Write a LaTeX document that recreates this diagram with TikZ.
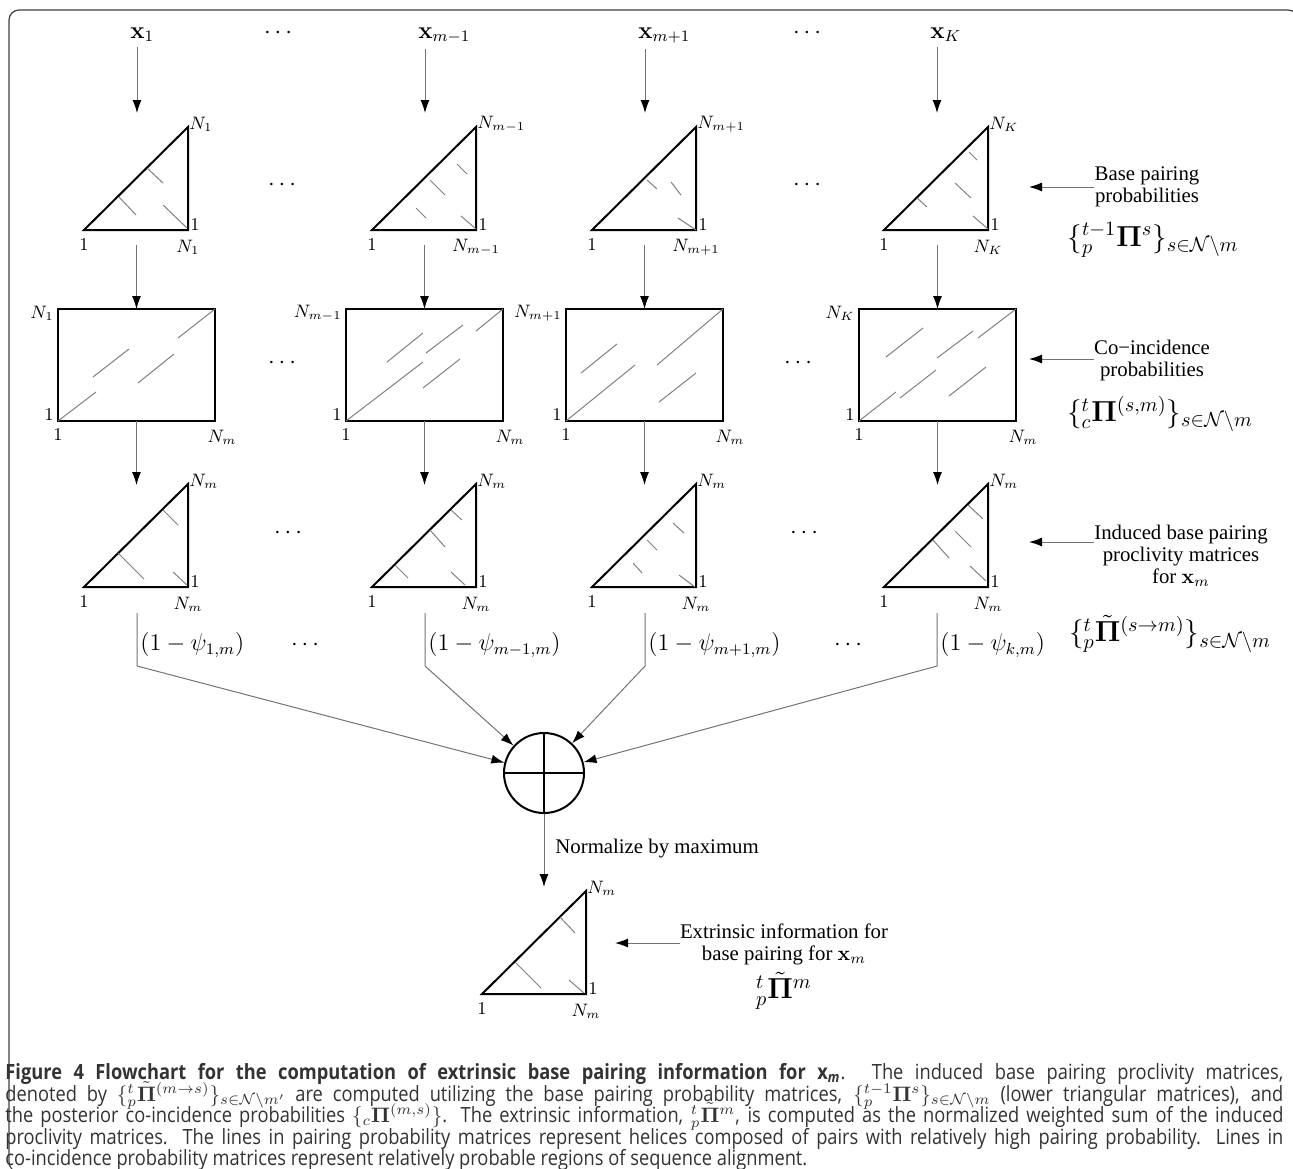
\documentclass[tikz,border=0pt]{standalone}
\usepackage{fix-cm}
\usepackage{amsmath,amssymb}
\usepackage[no-math]{fontspec}
\usetikzlibrary{arrows.meta}
\newfontfamily\tmfont{Liberation Serif}
\newfontfamily\capfont[FakeStretch=0.87]{Open Sans}
\tikzset{
 tri/.style={line width=1pt, line join=miter, draw=black},
 hel/.style={draw=black!50, line width=0.5pt},
 conn/.style={draw=black!55, line width=0.5pt},
 arr/.style={conn, -{Latex[length=6.5pt,width=4.5pt,color=black]}},
 nl/.style={inner sep=0pt, font=\fontsize{9}{10}\selectfont},
 xl/.style={inner sep=0pt, font=\fontsize{12}{14}\selectfont},
 psl/.style={inner sep=0pt, anchor=west, font=\fontsize{12}{14}\selectfont},
 tm/.style={inner sep=0pt, align=center, font=\fontsize{10.4}{11}\tmfont},
 fm/.style={inner sep=0pt, font=\fontsize{14.5}{16}\selectfont},
 dotn/.style={inner sep=0pt, font=\fontsize{12}{14}\selectfont},
 captxt/.style={inner sep=0pt, anchor=base west, font=\fontsize{10.5}{12}\capfont, text=black!80},
}
% triangle: name, left x, base y, top label, bottom-right label, helices
\newcommand{\Tri}[6]{%
 \coordinate (#1) at (#2,#3);
 \draw[tri] (#2,#3) -- (#2+104,#3) -- (#2+104,#3-103) -- cycle;
 \foreach \a/\b/\c/\d in {#6} \draw[hel] (#2+\a,#3-\b) -- (#2+\c,#3-\d);
 \node[nl, anchor=west] (#1-nt) at (#2+105,#3-106) {$#4$};
 \node[nl, anchor=west] (#1-or) at (#2+106,#3-5) {$1$};
 \node[nl] (#1-ob) at (#2,#3+15) {$1$};
 \node[nl] (#1-nb) at (#2+104,#3+17) {$#5$};
}
% rectangle: name, left x, bottom y, left label, helices
\newcommand{\Rct}[5]{%
 \node[draw, line width=1pt, minimum width=78.5pt, minimum height=56pt, inner sep=0pt, outer sep=0pt, anchor=south west] (#1) at (#2,#3) {};
 \foreach \a/\b/\c/\d in {#5} \draw[hel] (#2+\a,#3-\b) -- (#2+\c,#3-\d);
 \node[nl, anchor=east] (#1-nt) at (#2-4,#3-108) {$#4$};
 \node[nl, anchor=east] (#1-ol) at (#2-4,#3-6) {$1$};
 \node[nl] (#1-ob) at (#2,#3+14) {$1$};
 \node[nl] (#1-nb) at (#2+164,#3+16) {$N_m$};
}
\begin{document}
\begin{tikzpicture}[x=0.5pt,y=-0.5pt]
\useasboundingbox (0,0) rectangle (1293,1168);
\clip (0,0) rectangle (1293,1168);
% frame
\draw[draw=black!75, line width=0.6pt, rounded corners=5pt] (9,10) rectangle (1298,1172);

% top labels
\node[xl, anchor=base west] (x1) at (130,38) {$\mathbf{x}_1$};
\node[xl, anchor=base west] (x2) at (418,38) {$\mathbf{x}_{m-1}$};
\node[xl, anchor=base west] (x3) at (638,38) {$\mathbf{x}_{m+1}$};
\node[xl, anchor=base west] (x4) at (930,38) {$\mathbf{x}_K$};
\node[dotn] (d0a) at (280,33) {$\cdots$};
\node[dotn] (d0b) at (809,33) {$\cdots$};

% row 1 triangles
\Tri{t1}{84}{230}{N_1}{N_1}{63/62/79/47, 35/33/52/15, 79/25/103/2}
\Tri{t2}{372}{230}{N_{m-1}}{N_{m-1}}{85/66/95/56, 58/50/73/35, 44/22/54/12, 89/14/104/1}
\Tri{t3}{592}{230}{N_{m+1}}{N_{m+1}}{55/50/65/41, 79/48/89/35, 86/12/104/0}
\Tri{t4}{884}{230}{N_K}{N_K}{85/78/93/70, 71/47/87/32, 33/32/43/23, 89/14/104/1}
\node[dotn] (d1a) at (284,185) {$\cdots$};
\node[dotn] (d1b) at (809,185) {$\cdots$};

\coordinate (a1) at (137,113);
\coordinate (a2) at (425,113);
\coordinate (a3) at (645,113);
\coordinate (a4) at (937,113);
\foreach \i in {1,2,3,4} \draw[arr, shorten <=2.5pt] (x\i.south -| a\i) -- (a\i);

% row 2 rectangles
\Rct{r1}{58}{421}{N_1}{0/0/38/29, 120/83/157/112, 35/44/71/72, 80/38/116/67}
\Rct{r2}{346}{421}{N_{m-1}}{0/0/77/59, 130/90/157/112, 41/59/77/88, 80/68/117/96, 77/33/114/62}
\Rct{r3}{566}{421}{N_{m+1}}{0/0/69/56, 91/56/157/112, 15/48/51/77, 93/19/130/48}
\Rct{r4}{859}{421}{N_K}{0/0/37/29, 41/23/77/51, 27/64/64/93, 78/63/114/90, 119/83/157/112, 90/25/127/54}
\node[dotn] (d2a) at (284,363) {$\cdots$};
\node[dotn] (d2b) at (800,363) {$\cdots$};

\coordinate (b1) at (137,245);
\coordinate (b2) at (425,245);
\coordinate (b3) at (645,245);
\coordinate (b4) at (937,245);
\foreach \i in {1,2,3,4} \draw[arr] (r\i.north |- b\i) -- (r\i.north);

% row 3 triangles
\Tri{u1}{84}{587}{N_m}{N_m}{79/77/94/62, 34/34/60/8, 89/15/103/2}
\Tri{u2}{372}{587}{N_m}{N_m}{79/77/90/67, 58/57/73/40, 23/22/36/9, 79/15/93/2}
\Tri{u3}{592}{587}{N_m}{N_m}{55/47/65/37, 81/64/92/54, 41/24/50/14, 87/12/103/0}
\Tri{u4}{884}{587}{N_m}{N_m}{84/82/99/68, 71/56/87/40, 49/47/65/29, 86/21/102/6}
\node[dotn] (d3a) at (290,533) {$\cdots$};
\node[dotn] (d3b) at (806,533) {$\cdots$};

\coordinate (c1) at (137,485);
\coordinate (c2) at (425,485);
\coordinate (c3) at (645,485);
\coordinate (c4) at (937,485);
\foreach \i in {1,2,3,4} \draw[arr] (r\i.south) -- (r\i.south |- c\i);

% summation
\node[circle, draw, line width=1pt, minimum size=40pt, inner sep=0pt] (sum) at (544,773) {};
\draw[line width=1pt] (sum.north) -- (sum.south) (sum.west) -- (sum.east);

\coordinate (s1) at (137,613); \coordinate (k1) at (137,666);
\coordinate (s2) at (425,613); \coordinate (k2) at (425,666);
\coordinate (s3) at (645,613); \coordinate (k3) at (645,666);
\coordinate (s4) at (937,613); \coordinate (k4) at (937,666);
\foreach \i in {1,2,3,4} \draw[arr] (s\i) -- (k\i) -- (sum);

\node[psl] (p1) at (140,645) {$(1-\psi_{1,m})$};
\node[psl] (p2) at (428,645) {$(1-\psi_{m-1,m})$};
\node[psl] (p3) at (648,645) {$(1-\psi_{m+1,m})$};
\node[psl] (p4) at (940,645) {$(1-\psi_{k,m})$};
\node[dotn] (d4a) at (307,645) {$\cdots$};
\node[dotn] (d4b) at (850,645) {$\cdots$};

% normalization and final triangle
\coordinate (fa) at (544,887);
\draw[arr] (sum.south) -- (fa);
\node[tm, anchor=west] (nm) at (555,849) {Normalize by maximum};
\Tri{fin}{482}{994}{N_m}{N_m}{78/77/93/61, 34/31/59/6, 87/14/102/1}

% right annotations
\node[tm] (bp) at (1147,187) {Base pairing\\probabilities};
\coordinate (bpt) at (1029,187);
\draw[arr] (bp.west) -- (bpt);
\node[fm] (bpf) at (1153,240) {$\{{}^{t-1}_{p}\mathbf{\Pi}^{s}\}_{s\in\mathcal{N}\backslash m}$};

\node[tm] (ci) at (1152,360) {Co−incidence\\probabilities};
\coordinate (cit) at (1029,359);
\draw[arr] (ci.west |- cit) -- (cit);
\node[fm] (cif) at (1160,414) {$\{{}^{t}_{c}\mathbf{\Pi}^{(s,m)}\}_{s\in\mathcal{N}\backslash m}$};

\node[tm, anchor=north] (ib) at (1181,525) {Induced base pairing\\proclivity matrices\\for $\mathbf{x}_m$};
\coordinate (ibt) at (1029,542);
\draw[arr] (ib.west |- ibt) -- (ibt);
\node[fm] (ibf) at (1170,634) {$\{{}^{t}_{p}\tilde{\mathbf{\Pi}}^{(s\to m)}\}_{s\in\mathcal{N}\backslash m}$};

\node[tm] (ex) at (784,944) {Extrinsic information for\\base pairing for $\mathbf{x}_m$};
\coordinate (ext) at (615,943);
\draw[arr] (ex.west |- ext) -- (ext);
\node[fm] (exf) at (784,991) {${}^{t}_{p}\tilde{\mathbf{\Pi}}^{m}$};

% caption
\node[captxt] (cap1) at (5,1079) {\makebox[639pt][s]{\textbf{Figure 4 Flowchart for the computation of extrinsic base pairing information for x\textsubscript{\textit{m}}}. The induced base pairing proclivity matrices,}};
\node[captxt] (cap2) at (5,1101) {\makebox[639pt][s]{denoted by $\{{}^{t}_{p}\tilde{\mathbf{\Pi}}^{(m\rightarrow s)}\}_{s\in\mathcal{N}\backslash m'}$ are computed utilizing the base pairing probability matrices, $\{{}^{t-1}_{p}\mathbf{\Pi}^{s}\}_{s\in\mathcal{N}\backslash m}$ (lower triangular matrices), and}};
\node[captxt] (cap3) at (5,1122) {\makebox[639pt][s]{the posterior co-incidence probabilities $\{{}_{c}\mathbf{\Pi}^{(m,s)}\}$. The extrinsic information, ${}^{t}_{p}\tilde{\mathbf{\Pi}}^{m}$, is computed as the normalized weighted sum of the induced}};
\node[captxt] (cap4) at (5,1144) {\makebox[639pt][s]{proclivity matrices. The lines in pairing probability matrices represent helices composed of pairs with relatively high pairing probability. Lines in}};
\node[captxt] (cap5) at (5,1165) {co-incidence probability matrices represent relatively probable regions of sequence alignment.};
\end{tikzpicture}
\end{document}
